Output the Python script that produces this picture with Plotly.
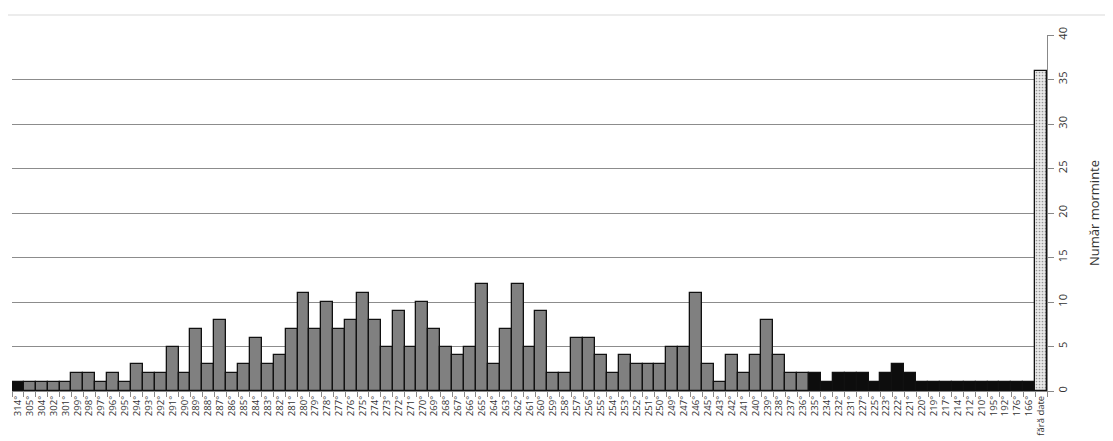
import plotly.graph_objects as go

# orientation (degrees) of graves and counts
orientari = ['314', '305', '304', '302', '301', '299', '298', '297', '296', '295',
             '294', '293', '292', '291', '290', '289', '288', '287', '286', '285',
             '284', '283', '282', '281', '280', '279', '278', '277', '276', '275',
             '274', '273', '272', '271', '270', '269', '268', '267', '266', '265',
             '264', '263', '262', '261', '260', '259', '258', '257', '256', '255',
             '254', '253', '252', '251', '250', '249', '247', '246', '245', '243',
             '242', '241', '240', '239', '238', '237', '236', '235', '234', '232',
             '231', '227', '225', '223', '222', '221', '220', '219', '217', '214',
             '212', '210', '195', '192', '176', '166']
morminte = [1, 1, 1, 1, 1, 2, 2, 1, 2, 1,
            3, 2, 2, 5, 2, 7, 3, 8, 2, 3,
            6, 3, 4, 7, 11, 7, 10, 7, 8, 11,
            8, 5, 9, 5, 10, 7, 5, 4, 5, 12,
            3, 7, 12, 5, 9, 2, 2, 6, 6, 4,
            2, 4, 3, 3, 3, 5, 5, 11, 3, 1,
            4, 2, 4, 8, 4, 2, 2, 2, 1, 2,
            2, 2, 1, 2, 3, 2, 1, 1, 1, 1,
            1, 1, 1, 1, 1, 1]
fara_date = 36

# orientations drawn in black (outliers)
negre = ['314', '235', '234', '232', '231', '227', '225', '223', '222', '221',
         '220', '219', '217', '214', '212', '210', '195', '192', '176', '166']

etichete = [o + '°' for o in orientari] + ['fără date']
valori = morminte + [fara_date]
culori = ['#0d0d0d' if o in negre else '#808080' for o in orientari] + ['#e9e9e9']
modele = [''] * len(orientari) + ['.']

fig = go.Figure()
fig.add_trace(go.Bar(
    x=etichete, y=valori,
    marker=dict(color=culori,
                line=dict(color='#111111', width=1.3),
                pattern=dict(shape=modele, fgcolor='#c8c8c8', bgcolor='#ececec',
                             size=3, solidity=0.25)),
    showlegend=False,
))

# page body adds 8px on top/left, so the figure is 8px smaller
fig.update_layout(
    width=1105, height=433,
    margin=dict(l=4, r=66, t=27, b=50),
    paper_bgcolor='white', plot_bgcolor='white',
    bargap=0,
    font=dict(family='Open Sans, Noto Sans, sans-serif', color='#333333'),
    xaxis=dict(type='category', tickangle=-90, tickfont=dict(size=9.5),
               ticks='outside', tickson='boundaries', ticklen=5, tickcolor='#888888',
               showline=True, linecolor='#888888', linewidth=1,
               showgrid=False, automargin=False),
    yaxis=dict(side='right', range=[0, 40], dtick=5, tickangle=-90,
               tickfont=dict(size=11), ticks='outside', ticklen=6, tickcolor='#888888',
               showline=True, linecolor='#888888', linewidth=1,
               showgrid=True, gridcolor='#8c8c8c', gridwidth=1.2, zeroline=False,
               title=dict(text='Număr morminte', font=dict(size=13), standoff=20),
               automargin=False),
    shapes=[dict(type='line', xref='paper', yref='paper', x0=-0.02, x1=1.07,
                 y0=1.056, y1=1.056, line=dict(color='#ececec', width=2))],
)

fig.write_html("out.html")
